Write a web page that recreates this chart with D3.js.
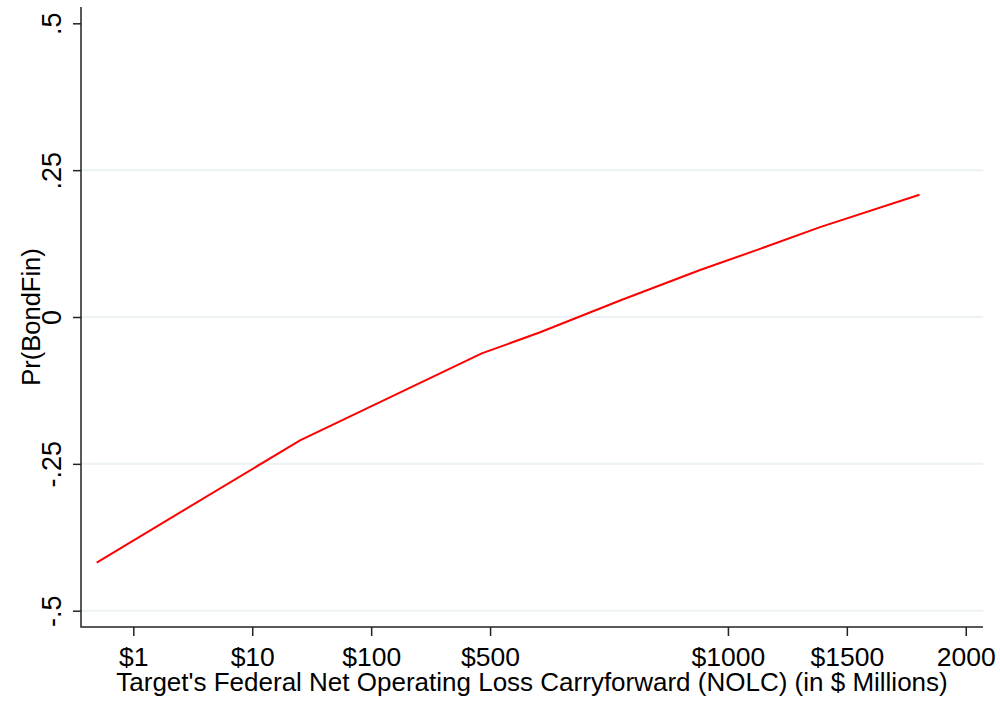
<!DOCTYPE html>
<meta charset="utf-8">
<title>Pr(BondFin) by NOLC</title>
<script src="https://cdn.jsdelivr.net/npm/d3@7"></script>
<style>
html, body {
    margin: 0;
    background: #fff;
}
svg {
    display: block;
    font-family: "Liberation Sans", Arial, sans-serif;
}
</style>
<body>
<script>
// x positions are on the plot's index scale ($1 = 0, $10 = 1, ...)
var xTickPos = [0, 1, 2, 3, 5, 6, 7],
    xTickLabels = ["$1", "$10", "$100", "$500", "$1000", "$1500", "2000"];

var yTicks = [-0.5, -0.25, 0, 0.25, 0.5],
    yTickLabels = ["-.5", "-.25", "0", ".25", ".5"],
    yGrid = [-0.5, -0.25, 0, 0.25];

var lineX = [-0.308, 1.402, 2.930, 3.421, 4.093, 4.766, 5.270, 5.775, 6.611],
    lineY = [-0.418, -0.210, -0.062, -0.026, 0.028, 0.080, 0.116, 0.153, 0.208];

var width = 1000,
    height = 702;

var plotLeft = 81, plotRight = 983, plotTop = 7, plotBottom = 627;

var x = d3.scaleLinear()
    .domain([-0.44, 7.145])
    .range([plotLeft, plotRight]);

var y = d3.scaleLinear()
    .domain([-0.5, 0.5])
    .range([610.7, 23.3]);

var svg = d3.select("body").append("svg")
    .attr("width", width)
    .attr("height", height);

svg.selectAll("line.grid")
    .data(yGrid)
    .enter().append("line")
    .attr("class", "grid")
    .attr("x1", plotLeft)
    .attr("x2", plotRight)
    .attr("y1", y)
    .attr("y2", y)
    .attr("stroke", "#eaf2f3")
    .attr("stroke-width", 2);

// y axis
var yAxis = svg.append("g")
    .attr("transform", "translate(" + plotLeft + ",0)")
    .call(d3.axisLeft(y)
        .tickValues(yTicks)
        .tickFormat(function(d, i) { return yTickLabels[i]; })
        .tickSize(8)
        .tickPadding(0));
yAxis.select(".domain").remove();
yAxis.selectAll(".tick line").attr("stroke", "#222").attr("stroke-width", 1.5);
yAxis.selectAll(".tick text")
    .attr("x", null).attr("dy", null)
    .attr("text-anchor", "middle")
    .attr("transform", "translate(-20,0)rotate(-90)")
    .attr("fill", "#000")
    .style("font-size", "27px");

// x axis
var xAxis = svg.append("g")
    .attr("transform", "translate(0," + plotBottom + ")")
    .call(d3.axisBottom(x)
        .tickValues(xTickPos)
        .tickFormat(function(d, i) { return xTickLabels[i]; })
        .tickSize(9)
        .tickPadding(0));
xAxis.select(".domain").remove();
xAxis.selectAll(".tick line").attr("stroke", "#222").attr("stroke-width", 1.5);
xAxis.selectAll(".tick text")
    .attr("y", 39).attr("dy", null)
    .attr("fill", "#000")
    .style("font-size", "26.5px");

svg.append("path")
    .attr("d", "M" + plotLeft + "," + plotTop + "V" + plotBottom + "H" + plotRight)
    .attr("fill", "none")
    .attr("stroke", "#222")
    .attr("stroke-width", 1.5);

svg.append("path")
    .datum(d3.range(lineX.length))
    .attr("fill", "none")
    .attr("stroke", "#ff0000")
    .attr("stroke-width", 2)
    .attr("d", d3.line()
        .x(function(i) { return x(lineX[i]); })
        .y(function(i) { return y(lineY[i]); }));

svg.append("text")
    .attr("x", (plotLeft + plotRight) / 2)
    .attr("y", 691)
    .attr("text-anchor", "middle")
    .style("font-size", "26px")
    .text("Target's Federal Net Operating Loss Carryforward (NOLC) (in $ Millions)");

svg.append("text")
    .attr("transform", "translate(40," + y(0) + ")rotate(-90)")
    .attr("text-anchor", "middle")
    .style("font-size", "25.5px")
    .text("Pr(BondFin)");
</script>
</body>
